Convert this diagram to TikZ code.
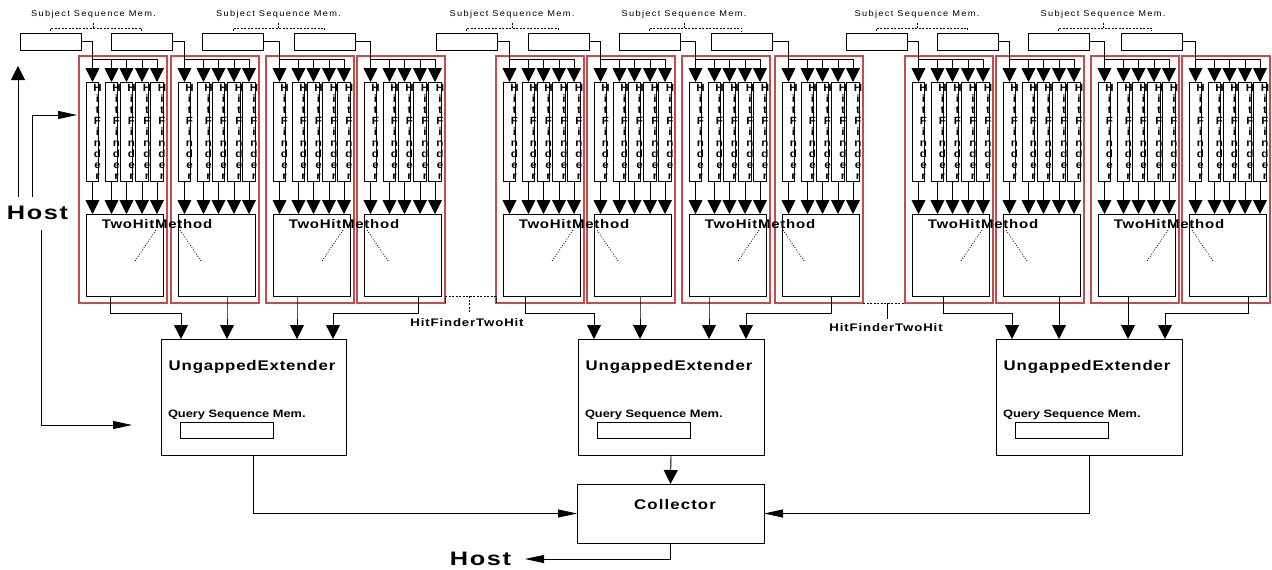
\documentclass[tikz,border=0pt]{standalone}
\usepackage{fontspec}
\setmainfont{Liberation Sans}
\newfontfamily\fSub[FakeStretch=1.1,LetterSpace=16]{Liberation Sans}
\newfontfamily\fBold[FakeStretch=1.2,LetterSpace=6]{Liberation Sans}
\newfontfamily\fHit[FakeStretch=1.2,LetterSpace=8]{Liberation Sans}
\newfontfamily\fHost[FakeStretch=1.3,LetterSpace=8]{Liberation Sans}
\newfontfamily\fQuery[FakeStretch=1.2]{Liberation Sans}
\newfontfamily\fHF[FakeStretch=1.1]{Liberation Sans}
\usetikzlibrary{arrows.meta}
\definecolor{blockred}{RGB}{200,75,75}
\tikzset{
  every node/.style={inner sep=0pt, outer sep=0pt},
  blk/.style={draw=blockred, line width=1.1pt, rectangle},
  plainbox/.style={draw, line width=0.9pt, rectangle},
  varr/.style={-{Triangle[width=14pt,length=14pt]}, line width=0.9pt},
  harr/.style={-{Triangle[width=8pt,length=19pt]}, line width=0.9pt},
  wire/.style={line width=0.9pt},
  dotl/.style={line width=0.6pt, dash pattern=on 2pt off 1.5pt},
  fine/.style={line width=0.7pt, dash pattern=on 1pt off 1.6pt},
  boldlbl/.style={font=\fBold\bfseries\fontsize{12.5}{14}\selectfont},
  unglbl/.style={font=\fBold\bfseries\fontsize{14}{16}\selectfont},
  collbl/.style={font=\fHit\bfseries\fontsize{14}{16}\selectfont},
  querylbl/.style={font=\fQuery\bfseries\fontsize{10.7}{12}\selectfont, anchor=west},
  hostlbl/.style={font=\fHost\bfseries\fontsize{19.5}{22}\selectfont},
  sublbl/.style={font=\fSub\fontsize{8.4}{10}\selectfont},
  hftxt/.style={font=\fHF\bfseries\fontsize{10.5}{11}\selectfont, align=center},
  hitlbl/.style={font=\fHit\bfseries\fontsize{11}{13}\selectfont},
}
\begin{document}
\begin{tikzpicture}[x=1pt,y=-1pt]
\useasboundingbox[fill=white] (0,0) rectangle (1272,570);

% ---------- blocks of hit finders ----------
\foreach \x/\sr [count=\k] in {79/81,171/172,266/263,357/355,496/497,587/589,682/680,775/772,905/907,996/998,1091/1089,1182/1182} {
  \node[blk, minimum width=88pt, minimum height=247pt, anchor=north west] (R\k) at (\x,56) {};
  \node[plainbox, minimum width=61pt, minimum height=17pt, anchor=north east] (S\k) at (\sr,33) {};
  \node[plainbox, minimum width=77pt, minimum height=82pt, anchor=north west] (T\k) at (\x+7.5,214) {};
  \foreach \c [count=\j] in {13.5,32.5,47.5,63,78} {
    \node[plainbox, minimum width=12.5pt, minimum height=99pt, anchor=north] (F\k-\j) at (\x+\c,82) {};
    \node[hftxt] (FT\k-\j) at (\x+\c+5,132) {H\\i\\t\\F\\i\\n\\d\\e\\r};
    \coordinate (B\k-\j) at (\x+\c,59);
    \draw[varr] (B\k-\j) -- (F\k-\j.north);
    \draw[varr] (F\k-\j.south) -- (F\k-\j.south |- T\k.north);
  }
  \draw[wire] (S\k.east) -| (B\k-1) -- (B\k-5);
}

% ---------- TwoHitMethod labels ----------
\foreach \x [count=\p] in {79,266,496,682,905,1091} {
  \node[boldlbl] (TL\p) at (\x+78,224) {TwoHitMethod};
  \draw[fine] (\x+77,230) -- (\x+56,261);
  \draw[fine] (\x+101,230) -- (\x+122,261);
}

% ---------- Subject Sequence Mem. labels ----------
\foreach \l/\r/\m [count=\p] in {50.5/141.5/93.5,233/324.5/278.5,466.5/558.5/512,649/741.5/684,876/967.5/917,1058.5/1151.5/1103} {
  \draw[dotl] (\l,31) -- (\l,28) -- (\r,28) -- (\r,31);
  \draw[dotl] (\m,28) -- (\m,23);
  \node[sublbl] (SL\p) at (\m,14) {Subject Sequence Mem.};
}

% ---------- Ungapped extenders ----------
\foreach \ux/\uw [count=\u] in {161/185,578/186,996/186} {
  \node[plainbox, minimum width=\uw pt, minimum height=116pt, anchor=north west] (U\u) at (\ux,339) {};
  \node[unglbl] (UT\u) at (\ux+91,367) {UngappedExtender};
  \node[querylbl] (QT\u) at (\ux+7,415) {Query Sequence Mem.};
  \node[plainbox, minimum width=93pt, minimum height=16pt, anchor=north west] (Q\u) at (\ux+19,422) {};
}

% ---------- TwoHit -> Ungapped ----------
\foreach \k/\dx/\u/\tx in {1/23.5/1/20,2/48.5/1/66,3/23.5/1/136,4/53.5/1/172,5/21.5/2/16,6/45.5/2/62,7/19.5/2/131,8/48.5/2/168,9/30.5/3/16,10/55.5/3/63,11/29.5/3/132,12/58.5/3/169} {
  \draw[varr] ([xshift=\dx pt]T\k.south west) -- ++(0,17) -| ([xshift=\tx pt]U\u.north west);
}

% ---------- HitFinderTwoHit labels ----------
\node[hitlbl] (HL1) at (467,323) {HitFinderTwoHit};
\draw[dotl] (R4.south east) -- ++(0,-7) -| (R5.south west);
\coordinate (HT1a) at (469,296);
\coordinate (HT1b) at (469,312);
\draw[dotl] (HT1a) -- (HT1b);
\node[hitlbl] (HL2) at (886,328) {HitFinderTwoHit};
\draw[dotl] (R8.south east) -- (R9.south west);
\coordinate (HT2a) at (887,303);
\coordinate (HT2b) at (887,319);
\draw[line width=0.7pt] (HT2a) -- (HT2b);

% ---------- Collector ----------
\node[plainbox, minimum width=187pt, minimum height=59pt, anchor=north west] (C) at (577,484) {};
\node[collbl] (CT) at (675,504) {Collector};
\draw[varr] (U2.south) -- (C.north);
\draw[harr] (U1.south) |- (C.west);
\draw[harr] (U3.south) |- (C.east);

% ---------- Host ----------
\node[hostlbl] (H1) at (37.5,213) {Host};
\node[hostlbl] (H2) at (480.5,559) {Host};
\draw[harr] (C.south) |- ([xshift=14pt]H2.east);
\coordinate (hu1) at (18,197);
\coordinate (hu1e) at (18,66);
\coordinate (hu2) at (32,197);
\coordinate (hu2e) at (77,115);
\coordinate (hd) at (41,230);
\coordinate (hde) at (132,425);
\draw[varr] (hu1) -- (hu1e);
\draw[harr] (hu2) |- (hu2e);
\draw[harr] (hd) |- (hde);
\end{tikzpicture}
\end{document}
